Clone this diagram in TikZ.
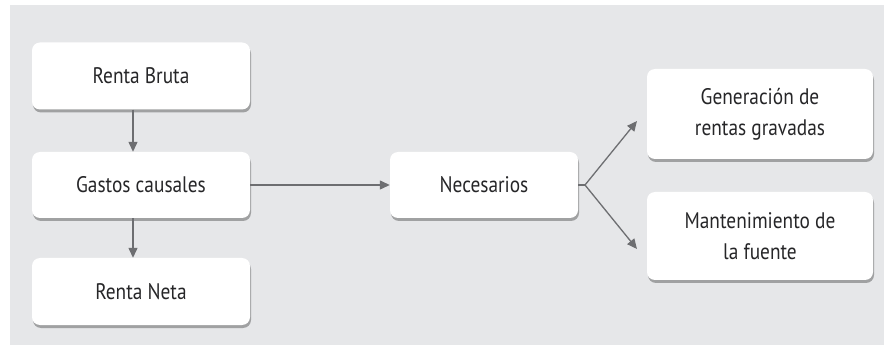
\documentclass[tikz,border=0pt]{standalone}
\usepackage{fontspec}
\setmainfont[FakeStretch=0.86]{PT Sans}
\usetikzlibrary{arrows.meta,shadows}
\definecolor{fondo}{HTML}{E6E7E9}
\definecolor{gris}{HTML}{6D6E71}
\definecolor{tinta}{HTML}{262628}
\tikzset{
  caja/.style={fill=white, rounded corners=8pt, align=center, inner sep=0pt,
    text=tinta, font=\fontsize{22.5}{31}\selectfont,
    drop shadow={shadow xshift=1pt, shadow yshift=-3pt, opacity=0.3, fill=black}},
  flecha/.style={draw=gris, line width=1.3pt, -{Triangle[length=10pt,width=9pt]}}
}
\begin{document}
\begin{tikzpicture}[x=1pt, y=-1pt]
      \useasboundingbox (0,0) rectangle (884,358);
      \fill[fondo] (10,5) rectangle (884,345);

      \node[caja, minimum width=218pt, minimum height=67pt] (rb) at (141, 76) {Renta Bruta};
      \node[caja, minimum width=218pt, minimum height=66pt] (gc) at (141, 185) {Gastos causales};
      \node[caja, minimum width=218pt, minimum height=67pt] (rn) at (141, 291.5) {Renta Neta};

      \node[caja, minimum width=188pt, minimum height=66pt] (nec) at (484, 185) {Necesarios};

      \node[caja, minimum width=226pt, minimum height=90pt] (gen) at (760, 114) {Generación de\\rentas gravadas};
      \node[caja, minimum width=226pt, minimum height=88pt] (man) at (760, 236) {Mantenimiento de\\la fuente};

      \coordinate (bif) at (585, 185);
      \draw[flecha] ([xshift=-8pt]rb.south) to ([xshift=-8pt]gc.north);
      \draw[flecha] ([xshift=-8pt]gc.south) to ([xshift=-8pt]rn.north);
      \draw[flecha] (gc.east) to (nec.west);
      \draw[draw=gris, line width=1.3pt] (nec.east) to (bif);
      \draw[flecha] (bif) to (637, 121);
      \draw[flecha] (bif) to (637, 249);
    \end{tikzpicture}
\end{document}
